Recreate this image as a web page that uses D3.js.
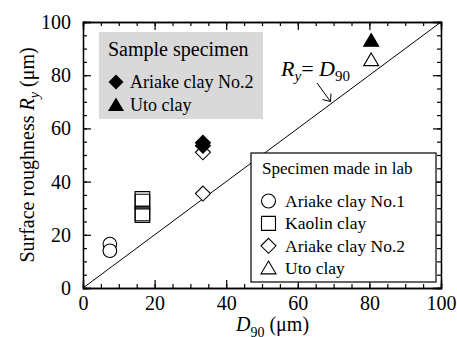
<!DOCTYPE html>
<html>
<head>
<meta charset="utf-8">
<script src="https://cdn.jsdelivr.net/npm/d3@7"></script>
<style>
  body { margin: 0; background: #fff; }
</style>
</head>
<body>
<script>
// data (D90 in um, Ry in um)
var labCircleD = [7.5, 7.5];
var labCircleR = [16.5, 14.0];
var labSquareD = [16.6, 16.6, 16.6, 16.6];
var labSquareR = [33.5, 32.5, 28.0, 27.4];
var labDiamondD = [33.5, 33.5];
var labDiamondR = [51.0, 35.5];
var labTriangleD = [80.5];
var labTriangleR = [85.7];
var sampleDiamondD = [33.5, 33.5];
var sampleDiamondR = [53.5, 54.6];
var sampleTriangleD = [80.5];
var sampleTriangleR = [93.0];
var majorTicks = [0, 20, 40, 60, 80, 100];
var minorTicks = d3.range(0, 101, 5);
var sampleLegend = ["Ariake clay No.2", "Uto clay"];
var labLegend = ["Ariake clay No.1", "Kaolin clay", "Ariake clay No.2", "Uto clay"];

var W = 457, H = 337;
var mLeft = 83, mRight = 441, mTop = 22, mBottom = 288;
var FONT = "'Liberation Serif'";

var svg = d3.select("body").append("svg").attr("width", W).attr("height", H)
  .style("display", "block").style("font-family", FONT);
var x = d3.scaleLinear().domain([0, 100]).range([mLeft, mRight]);
var y = d3.scaleLinear().domain([0, 100]).range([mBottom, mTop]);

// marker paths
function diamond(s) { return "M0," + (-s) + "L" + s + ",0L0," + s + "L" + (-s) + ",0Z"; }
function triangle(s) { return "M0," + (-s * 0.95) + "L" + s + "," + (s * 0.75) + "L" + (-s) + "," + (s * 0.75) + "Z"; }
function square(s) { return "M" + (-s) + "," + (-s) + "H" + s + "V" + s + "H" + (-s) + "Z"; }
function circle(s) { return "M" + s + ",0A" + s + "," + s + " 0 1,1 " + (-s) + ",0A" + s + "," + s + " 0 1,1 " + s + ",0Z"; }

// sample legend box (grey)
svg.append("rect").attr("x", 99).attr("y", 32).attr("width", 164).attr("height", 87)
  .attr("fill", "#d9d9d9");
svg.append("text").attr("x", 108).attr("y", 56).attr("font-size", 20).text("Sample specimen");
var sampleShapes = [diamond(7.5), triangle(8)];
sampleLegend.forEach(function (t, i) {
  var cy = 82 + i * 23;
  svg.append("path").attr("d", sampleShapes[i]).attr("transform", "translate(116," + cy + ")")
    .attr("fill", "#000");
  svg.append("text").attr("x", 130).attr("y", cy + 6).attr("font-size", 18).text(t);
});

// y = x line
svg.append("line").attr("x1", x(0)).attr("y1", y(0)).attr("x2", x(100)).attr("y2", y(100))
  .attr("stroke", "#000").attr("stroke-width", 1);

// axes, ticks inward
function addAxis(axis, tr, size, vals, labels) {
  var g = svg.append("g").attr("transform", tr)
    .call(axis.tickValues(vals).tickSize(-size).tickPadding(size + 4)
      .tickFormat(labels ? d3.format("d") : function () { return ""; }));
  g.attr("font-family", null).attr("font-size", null);
  g.select(".domain").attr("stroke-width", 1.3);
  g.selectAll("line").attr("stroke-width", 1.2);
  g.selectAll("text").attr("font-size", 20).attr("fill", "#000");
  return g;
}
addAxis(d3.axisBottom(x), "translate(0," + mBottom + ")", 4, minorTicks, false);
addAxis(d3.axisBottom(x), "translate(0," + mBottom + ")", 8, majorTicks, true)
  .selectAll("text").attr("dy", "0.5em");
addAxis(d3.axisTop(x), "translate(0," + mTop + ")", 4, minorTicks, false);
addAxis(d3.axisTop(x), "translate(0," + mTop + ")", 8, majorTicks, false);
addAxis(d3.axisLeft(y), "translate(" + mLeft + ",0)", 4, minorTicks, false);
addAxis(d3.axisLeft(y), "translate(" + mLeft + ",0)", 8, majorTicks, true);
addAxis(d3.axisRight(y), "translate(" + mRight + ",0)", 4, minorTicks, false);
addAxis(d3.axisRight(y), "translate(" + mRight + ",0)", 8, majorTicks, false);

// data marks
function plot(ds, rs, shape, fill) {
  svg.append("g").selectAll("path").data(ds).enter().append("path")
    .attr("d", shape)
    .attr("transform", function (d, i) { return "translate(" + x(d) + "," + y(rs[i]) + ")"; })
    .attr("fill", fill).attr("stroke", "#000").attr("stroke-width", 1.1);
}
plot(labCircleD, labCircleR, circle(6.8), "#fff");
plot(labSquareD, labSquareR, square(7.3), "none");
plot(labDiamondD, labDiamondR, diamond(7.5), "#fff");
plot(labTriangleD, labTriangleR, triangle(7.5), "#fff");
plot(sampleDiamondD, sampleDiamondR, diamond(7.5), "#000");
plot(sampleTriangleD, sampleTriangleR, triangle(7.5), "#000");

// annotation Ry = D90
var ann = svg.append("text").attr("x", 281).attr("y", 76).attr("font-size", 22);
ann.append("tspan").attr("font-style", "italic").text("R");
ann.append("tspan").attr("font-style", "italic").attr("font-size", 15).attr("dy", 5).text("y");
ann.append("tspan").attr("dy", -5).text("= ");
ann.append("tspan").attr("font-style", "italic").text("D");
ann.append("tspan").attr("font-size", 15).attr("dy", 5).text("90");
svg.append("line").attr("x1", 317).attr("y1", 83).attr("x2", 330.5).attr("y2", 101.5)
  .attr("stroke", "#000").attr("stroke-width", 1);
svg.append("path").attr("d", "M322.5,99.5L330.5,101.5L331,93.5").attr("fill", "none")
  .attr("stroke", "#000").attr("stroke-width", 1);

// lab legend box
svg.append("rect").attr("x", 251).attr("y", 153).attr("width", 185).attr("height", 129)
  .attr("fill", "#fff").attr("stroke", "#000").attr("stroke-width", 1.2);
svg.append("text").attr("x", 262).attr("y", 174).attr("font-size", 17).text("Specimen made in lab");
var labShapes = [circle(7), square(7), diamond(7.5), triangle(7.5)];
labLegend.forEach(function (t, i) {
  var cy = 201 + i * 22.4;
  svg.append("path").attr("d", labShapes[i]).attr("transform", "translate(268.5," + cy + ")")
    .attr("fill", "#fff").attr("stroke", "#000").attr("stroke-width", 1.1);
  svg.append("text").attr("x", 285).attr("y", cy + 6).attr("font-size", 17.5).text(t);
});

// axis titles
var yl = svg.append("text").attr("transform", "translate(34,155) rotate(-90)")
  .attr("text-anchor", "middle").attr("font-size", 20);
yl.append("tspan").text("Surface roughness ");
yl.append("tspan").attr("font-style", "italic").text("R");
yl.append("tspan").attr("font-style", "italic").attr("font-size", 14).attr("dy", 5).text("y");
yl.append("tspan").attr("dy", -5).text(" (\u03bcm)");

var xl = svg.append("text").attr("x", 236).attr("y", 331).attr("font-size", 20);
xl.append("tspan").attr("font-style", "italic").text("D");
xl.append("tspan").attr("font-size", 14).attr("dy", 6).text("90");
xl.append("tspan").attr("dy", -6).text(" (\u03bcm)");

svg.selectAll("text").style("font-family", FONT);
</script>
</body>
</html>
